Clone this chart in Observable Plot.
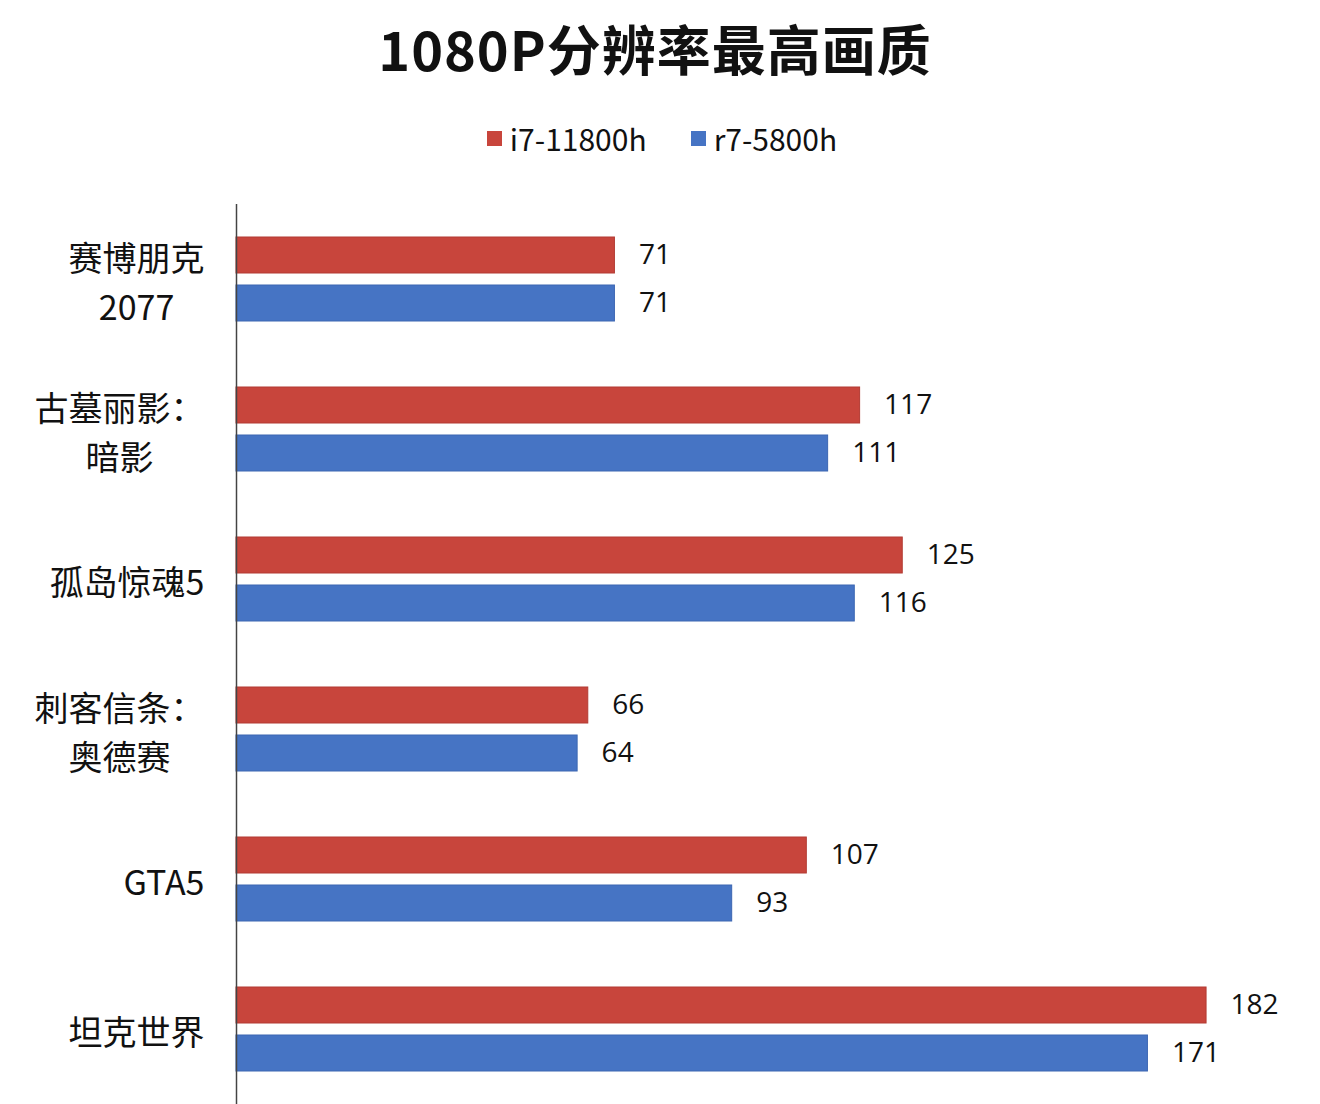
<!DOCTYPE html>
<html>
<head>
<meta charset="utf-8">
<script src="https://cdn.jsdelivr.net/npm/d3@7"></script>
<script src="https://cdn.jsdelivr.net/npm/@observablehq/plot@0.6"></script>
<style>
  html, body { margin: 0; padding: 0; background: #ffffff; }
  body { width: 1320px; height: 1104px; overflow: hidden; font-family: "Noto Sans CJK SC", "Noto Sans", sans-serif; }
  #title { height: 96px; line-height: 96px; text-align: center; font-size: 54px; font-weight: bold; color: #111; padding-right: 10px; letter-spacing: 1px; }
  #legend { height: 84px; display: flex; justify-content: center; align-items: center; gap: 44px; font-size: 30px; color: #111; padding-left: 4px; }
  #legend .item { display: flex; align-items: center; gap: 8px; }
  #legend .sw { width: 15px; height: 15px; display: inline-block; }
  #chart svg { display: block; }
</style>
</head>
<body>
<div id="title"></div>
<div id="legend"></div>
<div id="chart"></div>
<script>
const titleText = "1080P分辨率最高画质";
const games = ["赛博朋克\n2077", "古墓丽影：\n暗影", "孤岛惊魂5", "刺客信条：\n奥德赛", "GTA5", "坦克世界"];
const seriesNames = ["i7-11800h", "r7-5800h"];
const seriesColors = ["#c8453c", "#4674c4"];
const seriesStrokes = ["#b23b33", "#3c66b2"];
const i7Values = [71, 117, 125, 66, 107, 182];
const r7Values = [71, 111, 116, 64, 93, 171];

document.getElementById("title").textContent = titleText;
const legend = document.getElementById("legend");
seriesNames.forEach((s, i) => {
  const it = document.createElement("div");
  it.className = "item";
  const sw = document.createElement("span");
  sw.className = "sw";
  sw.style.background = seriesColors[i];
  const tx = document.createElement("span");
  tx.textContent = s;
  it.appendChild(sw); it.appendChild(tx);
  legend.appendChild(it);
});

const data = [];
games.forEach((g, i) => {
  data.push({game: g, series: seriesNames[0], value: i7Values[i]});
  data.push({game: g, series: seriesNames[1], value: r7Values[i]});
});

const chart = Plot.plot({
  width: 1320,
  height: 926,
  marginLeft: 236,
  marginRight: 18,
  marginTop: 22,
  marginBottom: 0,
  style: {background: "transparent", fontFamily: "\"Noto Sans CJK SC\", sans-serif"},
  x: {domain: [0, 200], axis: null},
  y: {domain: seriesNames, axis: null, paddingInner: 0.24, paddingOuter: 0.68},
  fy: {domain: games, padding: 0, axis: null, label: null},
  color: {domain: seriesNames, range: seriesColors},
  marks: [
    Plot.barX(data, {x: "value", y: "series", fy: "game", fill: "series", stroke: d => seriesStrokes[seriesNames.indexOf(d.series)], strokeWidth: 1}),
    Plot.text(data, {x: "value", y: "series", fy: "game", text: d => String(d.value), textAnchor: "start", dx: 24, fontSize: 28, fill: "#111", fontFamily: "\"Open Sans\", sans-serif"}),
    Plot.axisFy({anchor: "left", tickSize: 0, tickPadding: 32, fontSize: 34, lineHeight: 1.46, label: null, fill: "#111"}),
    Plot.ruleX([0], {stroke: "#444", strokeWidth: 1.5})
  ]
});
document.getElementById("chart").appendChild(chart);

// center the lines of multi-line category labels within their right-aligned block
chart.querySelectorAll("text").forEach(t => {
  const spans = t.querySelectorAll("tspan");
  if (spans.length > 1) {
    let w = 0;
    spans.forEach(s => { w = Math.max(w, s.getComputedTextLength()); });
    t.setAttribute("text-anchor", "middle");
    spans.forEach(s => s.setAttribute("x", -w / 2));
  }
});
</script>
</body>
</html>
